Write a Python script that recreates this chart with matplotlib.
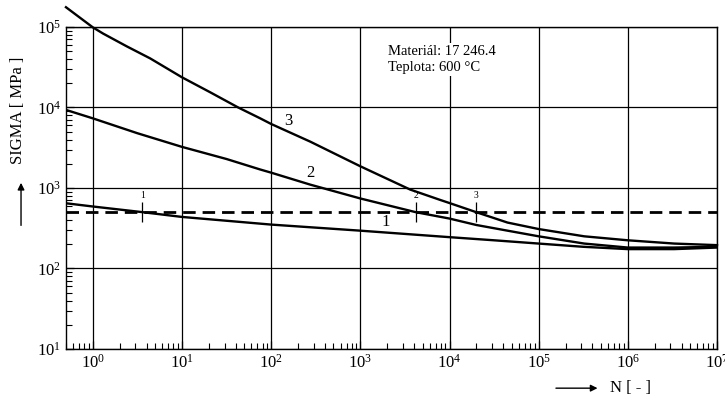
import numpy as np
import matplotlib.pyplot as plt
from matplotlib.patches import FancyArrowPatch
from matplotlib.ticker import LogLocator, NullFormatter

plt.rcParams['font.family'] = ['Liberation Serif', 'DejaVu Serif']
plt.rcParams['mathtext.fontset'] = 'custom'
plt.rcParams['mathtext.rm'] = 'Liberation Serif'
plt.rcParams['mathtext.it'] = 'Liberation Serif:italic'

# values
N3 = [0.5, 1, 1.3, 2.4, 4.4, 10, 20.6, 42.7, 75, 100, 275, 1000, 3630, 7940, 1e4,
      2e4, 4.47e4, 1e5, 3.24e5, 1e6, 3.31e6, 1e7]
sigma3 = [1.76e5, 9.9e4, 8.3e4, 5.75e4, 4.07e4, 2.37e4, 1.55e4, 1.0e4, 7350, 6240, 3760,
          1860, 955, 708, 650, 500, 372, 309, 251, 224, 204, 195]
N2 = [0.5, 1, 3.16, 10, 31.6, 75, 100, 275, 1000, 4170, 1e4, 2e4, 4.47e4, 1e5, 3.24e5,
      1e6, 3.31e6, 1e7]
sigma2 = [9330, 7330, 4790, 3240, 2290, 1700, 1550, 1100, 741, 501, 417, 347, 295, 251,
          204, 182, 182, 186]
N1 = [0.5, 1, 3.6, 10, 100, 1000, 1e4, 3.16e4, 1e5, 3.16e5, 1e6, 3.31e6, 1e7]
sigma1 = [646, 589, 501, 437, 351, 295, 245, 224, 204, 186, 174, 174, 182]
sigma_limit = 500
cross_N = [3.6, 4.2e3, 2.0e4]
cross_labels = ['1', '2', '3']
curve_label_pos = [(1900, 380, '1'), (275, 1520, '2'), (155, 6800, '3')]

fig = plt.figure(figsize=(7.25, 4.01), dpi=100)
ax = fig.add_axes([0.091, 0.1297, 0.898, 0.803])

ax.set_xscale('log')
ax.set_yscale('log')
ax.set_xlim(0.5, 1e7)
ax.set_ylim(10, 1e5)

ax.plot(N1, sigma1, color='k', lw=1.7)
ax.plot(N2, sigma2, color='k', lw=1.7)
ax.plot(N3, sigma3, color='k', lw=1.7, clip_on=False)
ax.axhline(sigma_limit, color='k', lw=2.0, dashes=(4.5, 2.5))

ax.plot(cross_N, [sigma_limit] * len(cross_N), linestyle='none', marker='|',
        ms=15, mew=0.9, color='k')
for n, lab in zip(cross_N, cross_labels):
    ax.annotate(lab, (n, sigma_limit), xytext=(0, 9), textcoords='offset points',
                ha='center', va='bottom', fontsize=7)

for x, y, lab in curve_label_pos:
    ax.text(x, y, lab, fontsize=12, ha='center', va='center')

ax.text(0.495, 0.945, 'Materiál: 17 246.4\nTeplota: 600 °C', transform=ax.transAxes,
        fontsize=10.5, va='top', ha='left', linespacing=1.35,
        bbox=dict(facecolor='white', edgecolor='none', pad=1))

ax.set_xticks([10.0 ** k for k in range(0, 8)])
ax.set_yticks([10.0 ** k for k in range(1, 6)])
ax.xaxis.set_minor_locator(LogLocator(base=10, subs=np.arange(2, 10), numticks=20))
ax.yaxis.set_minor_locator(LogLocator(base=10, subs=np.arange(2, 10), numticks=20))
ax.xaxis.set_minor_formatter(NullFormatter())
ax.yaxis.set_minor_formatter(NullFormatter())

ax.grid(True, which='major', color='k', lw=0.9)
ax.tick_params(which='both', direction='in', top=False, right=False, labelsize=12)
ax.tick_params(which='major', length=6, width=0.9)
ax.tick_params(which='minor', length=4, width=0.8)
for s in ax.spines.values():
    s.set_linewidth(1.0)

fig.text(0.025, 0.726, 'SIGMA [ MPa ]', rotation=90, ha='center', va='center', fontsize=12)
fig.text(0.841, 0.032, 'N [ - ]', ha='left', va='center', fontsize=12)
fig.add_artist(FancyArrowPatch((0.029, 0.431), (0.029, 0.551), transform=fig.transFigure,
                               arrowstyle='-|>', mutation_scale=10, lw=1, color='k'))
fig.add_artist(FancyArrowPatch((0.763, 0.032), (0.828, 0.032), transform=fig.transFigure,
                               arrowstyle='-|>', mutation_scale=10, lw=1, color='k'))

fig.savefig('out.png', dpi=100)
